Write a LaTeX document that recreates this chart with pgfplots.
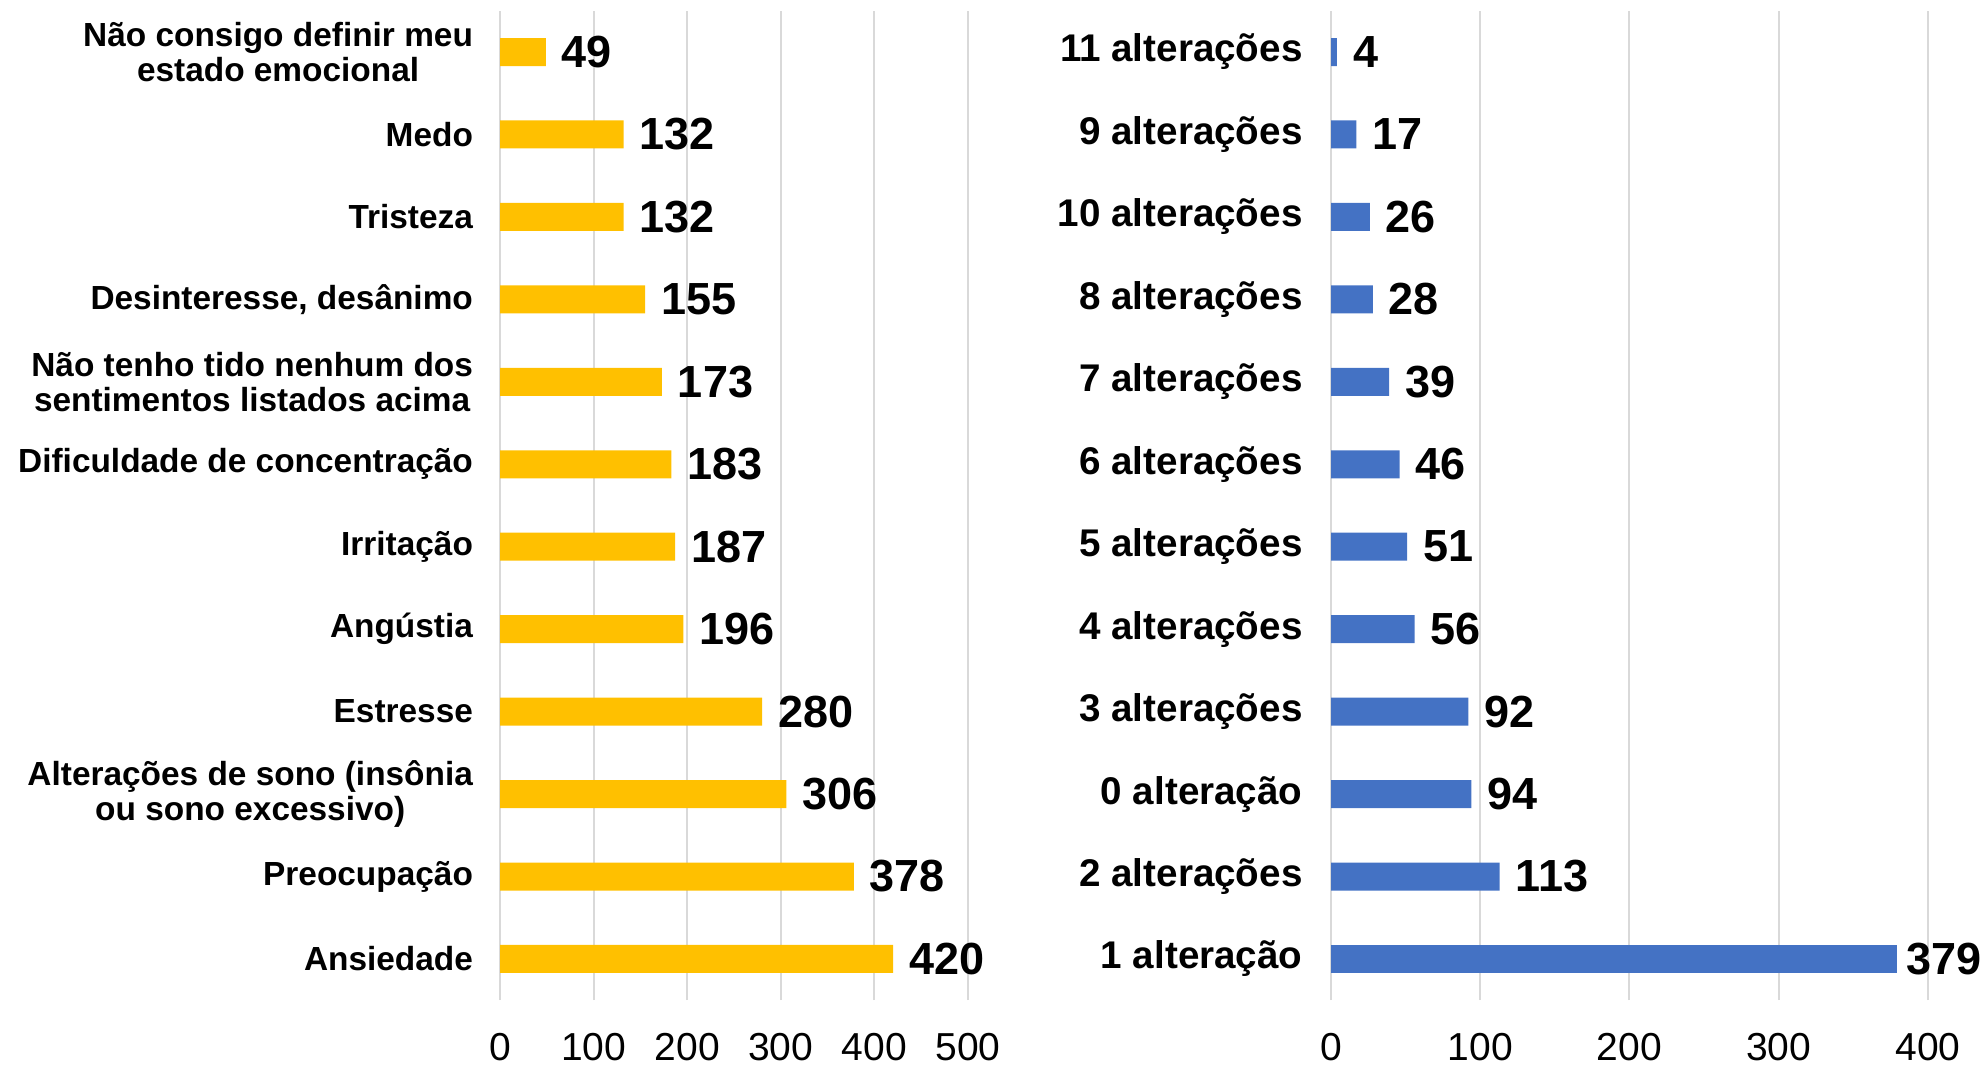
\documentclass[border=0pt]{standalone}
\usepackage{pgfplots}
\pgfplotsset{compat=1.18}
\usepackage{fontspec}
\setmainfont{Liberation Sans}
\definecolor{barY}{HTML}{FFC000}
\definecolor{barB}{HTML}{4472C4}
\definecolor{gridc}{HTML}{D9D9D9}
\pgfplotsset{
  chartbase/.style={
    xbar, bar width=14pt, bar shift=0pt, scale only axis, anchor=south west,
    height=494.7pt, ymin=-0.5, ymax=11.5, ytick={0,...,11},
    axis line style={draw=none}, major tick length=0pt,
    xmajorgrids, grid style={gridc, line width=1pt},
    /pgf/number format/assume math mode=true,
    xticklabel style={font=\fontsize{19.5}{22}\selectfont, yshift=-13pt},
    nodes near coords, point meta=x,
    every node near coord/.append style={font=\bfseries\fontsize{22.5}{26}\selectfont, text=black, xshift=4.5pt},
    clip=false,
  }
}
\begin{document}
\begin{tikzpicture}
\path[use as bounding box] (0,0) rectangle (992pt,533pt);
\begin{axis}[chartbase, at={(250pt,32.9pt)}, width=234pt,
  xmin=0, xmax=500, xtick={0,100,...,500},
  yticklabels={Ansiedade, Preocupação, {Alterações de sono (insônia\\ou sono excessivo)}, Estresse, Angústia, Irritação, Dificuldade de concentração, {Não tenho tido nenhum dos\\sentimentos listados acima}, {Desinteresse, desânimo}, Tristeza, Medo, {Não consigo definir meu\\estado emocional}},
  yticklabel style={align=center, font=\bfseries\fontsize{16.7}{17.7}\selectfont, xshift=-10pt}]
\addplot[fill=barY, draw=none] coordinates {
(420,0) (378,1) (306,2) (280,3) (196,4) (187,5) (183,6) (173,7) (155,8) (132,9) (132,10) (49,11)};
\end{axis}
\begin{axis}[chartbase, at={(665.5pt,32.9pt)}, width=313.4pt,
  xmin=0, xmax=420, xtick={0,100,...,400},
  yticklabels={1 alteração, 2 alterações, 0 alteração, 3 alterações, 4 alterações, 5 alterações, 6 alterações, 7 alterações, 8 alterações, 10 alterações, 9 alterações, 11 alterações},
  yticklabel style={font=\bfseries\fontsize{19.3}{22}\selectfont, xshift=-10.7pt}]
\addplot[fill=barB, draw=none] coordinates {
(113,1) (94,2) (92,3) (56,4) (51,5) (46,6) (39,7) (28,8) (26,9) (17,10) (4,11)};
\addplot[fill=barB, draw=none, every node near coord/.append style={xshift=-3pt}] coordinates {
(379,0)};
\end{axis}
\end{tikzpicture}
\end{document}
